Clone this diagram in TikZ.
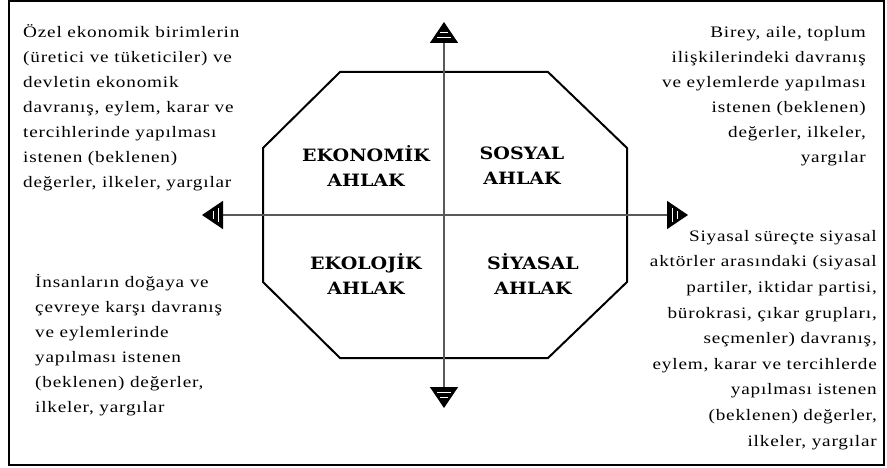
\documentclass[tikz,border=0pt]{standalone}
\usepackage{fontspec}
\setmainfont[FakeStretch=1.2, LetterSpace=5]{Liberation Serif}
\newfontfamily\quadfont[FakeStretch=1.12]{DejaVu Serif}
\usetikzlibrary{arrows.meta}

\begin{document}
\begin{tikzpicture}[x=1pt, y=-1pt,
    txt/.style={font=\fontsize{16}{25}\selectfont, inner sep=0pt},
    quad/.style={font=\quadfont\bfseries\fontsize{17}{25}\selectfont, align=center, inner sep=0pt},
    tip/.tip={Triangle[length=21pt, width=28pt, black]},
    axis/.style={draw=black!65, line width=1.6pt, tip-tip}]
  \useasboundingbox (0,0) rectangle (887,468);
  \draw[line width=1.3pt] (9,1) rectangle (884,465);

  \draw[line width=2pt] (340,72) -- (548,72) -- (627,148) -- (627,282)
    -- (548,358) -- (340,358) -- (263,282) -- (263,148) -- cycle;

  \coordinate (top) at (444,22);
  \coordinate (bottom) at (444,408);
  \coordinate (left) at (202,215);
  \coordinate (right) at (688,215);
  \draw[axis] (left) -- (right);
  \draw[axis] (bottom) -- (top);
  % white stripes in the arrow heads
  \foreach \p/\r in {top/0, left/90, bottom/180, right/270}
    \draw[white, line width=1pt, shift={(\p)}, rotate=\r]
      (-4,11) -- (4,11) (-7,16) -- (7,16);

  \node[quad] (ekonomik) at (366,166) {EKONOMİK\\AHLAK};
  \node[quad] (sosyal) at (522,166) {SOSYAL\\AHLAK};
  \node[quad] (ekolojik) at (366,274) {EKOLOJİK\\AHLAK};
  \node[quad] (siyasal) at (533,274) {SİYASAL\\AHLAK};

  \node[txt, anchor=north west, align=left] (ekonomiktxt) at (23,24)
    {Özel ekonomik birimlerin\\(üretici ve tüketiciler) ve\\devletin ekonomik\\davranış, eylem, karar ve\\tercihlerinde yapılması\\istenen (beklenen)\\değerler, ilkeler, yargılar};
  \node[txt, anchor=north east, align=right] (sosyaltxt) at (866,26)
    {Birey, aile, toplum\\ilişkilerindeki davranış\\ve eylemlerde yapılması\\istenen (beklenen)\\değerler, ilkeler,\\yargılar};
  \node[txt, anchor=north west, align=left] (ekolojiktxt) at (35,274)
    {İnsanların doğaya ve\\çevreye karşı davranış\\ve eylemlerinde\\yapılması istenen\\(beklenen) değerler,\\ilkeler, yargılar};
  \node[txt, font=\fontsize{16}{25.6}\selectfont, anchor=north east, align=right] (siyasaltxt) at (877,230)
    {Siyasal süreçte siyasal\\aktörler arasındaki (siyasal\\partiler, iktidar partisi,\\bürokrasi, çıkar grupları,\\seçmenler) davranış,\\eylem, karar ve tercihlerde\\yapılması istenen\\(beklenen) değerler,\\ilkeler, yargılar};
\end{tikzpicture}
\end{document}
